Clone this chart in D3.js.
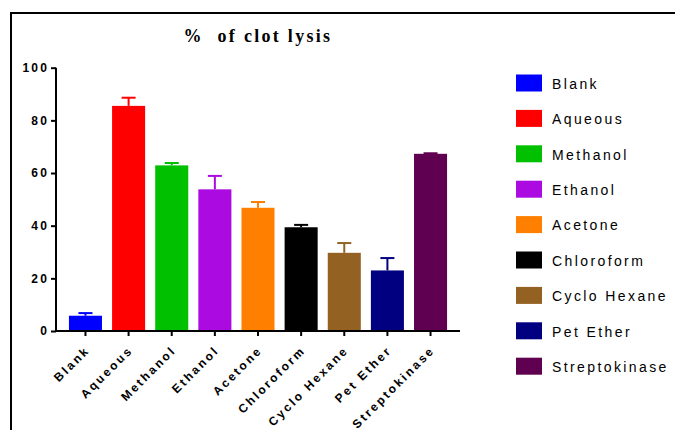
<!DOCTYPE html>
<html>
<head>
<meta charset="utf-8">
<script src="https://cdn.jsdelivr.net/npm/d3@7"></script>
<style>
  html, body { margin: 0; padding: 0; background: #fff; }
  svg { display: block; }
</style>
</head>
<body>
<svg id="chart" width="675" height="430"></svg>
<script>
// Clot lysis (%) for each extract, mean with upper error bar
const categories = ["Blank", "Aqueous", "Methanol", "Ethanol", "Acetone", "Chloroform", "Cyclo Hexane", "Pet Ether", "Streptokinase"];
const meanValues = [5.8, 85.5, 62.9, 53.8, 46.8, 39.4, 29.7, 23.0, 67.3];
const errorValues = [1.0, 3.1, 0.9, 5.1, 2.2, 0.9, 3.7, 4.7, 0.2];
const barColors = ["#0000ff", "#ff0000", "#00c000", "#ab0ae0", "#ff8000", "#000000", "#936121", "#000080", "#600050"];
const yTickValues = [0, 20, 40, 60, 80, 100];
const chartTitle = "%  of clot lysis";

const svg = d3.select("#chart");

// outer frame (left and top edges)
svg.append("path")
  .attr("d", "M11,430V13H675")
  .attr("fill", "none")
  .attr("stroke", "#000")
  .attr("stroke-width", 2);

const x = d3.scaleBand()
  .domain(categories)
  .range([56, 460])
  .paddingInner(0.234)
  .paddingOuter(0.3);

const y = d3.scaleLinear()
  .domain([0, 100])
  .range([331, 67.7]);

// bars
svg.append("g")
  .selectAll("rect")
  .data(categories)
  .join("rect")
  .attr("x", d => x(d))
  .attr("width", x.bandwidth())
  .attr("y", (d, i) => y(meanValues[i]))
  .attr("height", (d, i) => y(0) - y(meanValues[i]))
  .attr("fill", (d, i) => barColors[i]);

// upper error bars
const capHalf = 7;
const eb = svg.append("g")
  .selectAll("g")
  .data(categories)
  .join("g")
  .attr("stroke", (d, i) => barColors[i])
  .attr("stroke-width", 2);
eb.append("line")
  .attr("x1", d => x(d) + x.bandwidth() / 2)
  .attr("x2", d => x(d) + x.bandwidth() / 2)
  .attr("y1", (d, i) => y(meanValues[i]))
  .attr("y2", (d, i) => y(meanValues[i] + errorValues[i]));
eb.append("line")
  .attr("x1", d => x(d) + x.bandwidth() / 2 - capHalf)
  .attr("x2", d => x(d) + x.bandwidth() / 2 + capHalf)
  .attr("y1", (d, i) => y(meanValues[i] + errorValues[i]))
  .attr("y2", (d, i) => y(meanValues[i] + errorValues[i]));

// y axis
const yAxis = svg.append("g")
  .attr("transform", "translate(56,0)")
  .call(d3.axisLeft(y).tickValues(yTickValues).tickSize(5).tickSizeOuter(0).tickPadding(4));
yAxis.select(".domain").attr("stroke-width", 2).attr("d", `M0,${y(100)}V${y(0) + 1}`);
yAxis.selectAll(".tick line").attr("stroke-width", 2);
yAxis.selectAll(".tick text")
  .attr("font-family", "Liberation Sans, Arial, sans-serif")
  .attr("font-weight", "bold")
  .attr("font-size", 12)
  .attr("letter-spacing", 2.3)
  .attr("dx", 2.3)
  .attr("fill", "#000");

// x axis
const xAxis = svg.append("g")
  .attr("transform", "translate(0,331)")
  .call(d3.axisBottom(x).tickSize(5).tickSizeOuter(0));
xAxis.select(".domain").attr("stroke-width", 2).attr("d", "M55,0H460");
xAxis.selectAll(".tick line").attr("stroke-width", 2);
xAxis.selectAll(".tick text")
  .attr("font-family", "Liberation Sans, Arial, sans-serif")
  .attr("font-weight", "bold")
  .attr("font-size", 12)
  .attr("letter-spacing", 2.4)
  .attr("text-anchor", "end")
  .attr("dy", null)
  .attr("y", 0)
  .attr("transform", "translate(5,20) rotate(-45)")
  .attr("fill", "#000");

// title
svg.append("text")
  .attr("x", 258)
  .attr("y", 41.5)
  .attr("text-anchor", "middle")
  .attr("font-family", "Liberation Serif, Times New Roman, serif")
  .attr("font-weight", "bold")
  .attr("font-size", 18)
  .attr("letter-spacing", 2.3)
  .style("white-space", "pre")
  .text(chartTitle);

// legend
const legend = svg.append("g")
  .selectAll("g")
  .data(categories)
  .join("g")
  .attr("transform", (d, i) => `translate(516,${74.5 + i * 35.4})`);
legend.append("rect")
  .attr("width", 26)
  .attr("height", 17)
  .attr("fill", (d, i) => barColors[i]);
legend.append("text")
  .attr("x", 36)
  .attr("y", 9.5)
  .attr("dy", "0.35em")
  .attr("font-family", "Liberation Sans, Arial, sans-serif")
  .attr("font-size", 14)
  .attr("letter-spacing", 2.4)
  .attr("fill", "#000")
  .text(d => d);
</script>
</body>
</html>
